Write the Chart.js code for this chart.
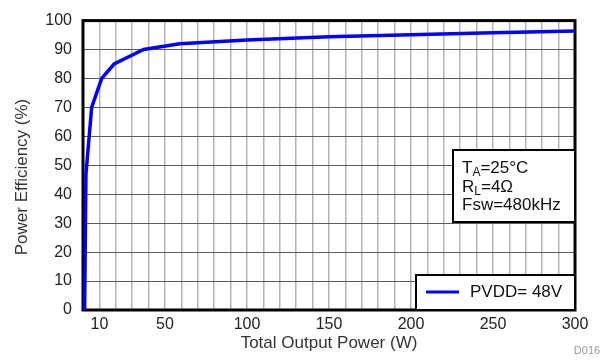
<!DOCTYPE html>
<html>
<head>
<meta charset="utf-8">
<script src="https://cdn.jsdelivr.net/npm/chart.js@4.4.1/dist/chart.umd.min.js"></script>
<style>
  html, body { margin: 0; padding: 0; background: #fff; }
  canvas { display: block; }
</style>
</head>
<body>
<canvas id="eff" width="611" height="360"></canvas>
<script>
// values
var powerW = [1, 1.8, 5.3, 11.4, 19, 37, 59, 100, 150, 200, 250, 300];
var efficiency = [0, 47, 70, 80, 85, 90, 92, 93.3, 94.4, 95.1, 95.8, 96.4];
var xLabels = [10, 50, 100, 150, 200, 250, 300];
var seriesName = 'PVDD= 48V';
var noteLines = [['T', 'A', '=25°C'], ['R', 'L', '=4Ω'], ['Fsw=480kHz', '', '']];

var FONT = 'Liberation Sans';

var points = powerW.map(function (w, i) { return { x: w, y: efficiency[i] }; });

// frame + note box + legend box
var extras = {
    id: 'extras',
    beforeDatasetsDraw: function (chart) {
        var a = chart.chartArea, ctx = chart.ctx;
        ctx.save();
        ctx.strokeStyle = '#000';
        ctx.lineWidth = 3;
        ctx.strokeRect(a.left, a.top, a.right - a.left, a.bottom - a.top);
        ctx.restore();
    },
    afterDatasetsDraw: function (chart) {
        var a = chart.chartArea, ctx = chart.ctx;
        ctx.save();
        ctx.lineWidth = 2;
        ctx.strokeStyle = '#000';

        // conditions box
        ctx.fillStyle = '#fff';
        ctx.fillRect(453, 150, a.right - 453, 72);
        ctx.strokeRect(453, 150, a.right - 453, 72);
        ctx.fillStyle = '#111';
        ctx.textBaseline = 'alphabetic';
        noteLines.forEach(function (ln, i) {
            var y = 173 + i * 18.5, x = 462;
            ctx.font = '17px "' + FONT + '"';
            ctx.fillText(ln[0], x, y);
            x += ctx.measureText(ln[0]).width;
            if (ln[1]) {
                ctx.font = '12px "' + FONT + '"';
                ctx.fillText(ln[1], x, y + 3);
                x += ctx.measureText(ln[1]).width;
            }
            ctx.font = '17px "' + FONT + '"';
            ctx.fillText(ln[2], x, y);
        });

        // legend box
        var ds = chart.data.datasets[0];
        ctx.fillStyle = '#fff';
        ctx.fillRect(416, 275, a.right - 416, a.bottom - 275);
        ctx.strokeRect(416, 275, a.right - 416, a.bottom - 275);
        ctx.strokeStyle = ds.borderColor;
        ctx.lineWidth = 3;
        ctx.beginPath();
        ctx.moveTo(426, 292);
        ctx.lineTo(459, 292);
        ctx.stroke();
        ctx.fillStyle = '#111';
        ctx.font = '17px "' + FONT + '"';
        ctx.textBaseline = 'middle';
        ctx.fillText(ds.label, 470, 292);

        // y title
        ctx.save();
        ctx.translate(22, 177);
        ctx.rotate(-Math.PI / 2);
        ctx.textAlign = 'center';
        ctx.fillStyle = '#333';
        ctx.font = '17px "' + FONT + '"';
        ctx.fillText('Power Efficiency (%)', 0, 0);
        ctx.restore();

        // figure id
        ctx.font = '11px "' + FONT + '"';
        ctx.fillStyle = '#999';
        ctx.textAlign = 'center';
        ctx.fillText('D016', 587, 351);
        ctx.restore();
    }
};

new Chart(document.getElementById('eff'), {
    type: 'line',
    data: {
        datasets: [{
            label: seriesName,
            data: points,
            borderColor: '#0000ff',
            backgroundColor: '#0000ff',
            borderWidth: 3.5,
            pointRadius: 0,
            tension: 0
        }]
    },
    options: {
        responsive: false,
        animation: false,
        layout: { padding: { top: 17, right: 36, left: 0, bottom: 0 } },
        plugins: { legend: { display: false }, tooltip: { enabled: false } },
        scales: {
            x: {
                type: 'linear',
                min: 0, max: 300,
                afterFit: function (s) { s.height = 50; },
                afterBuildTicks: function (s) {
                    var t = [];
                    for (var v = 0; v <= 300; v += 10) t.push({ value: v });
                    s.ticks = t;
                },
                grid: { color: '#b4b4b4', lineWidth: 1.5, drawTicks: false },
                border: { display: false },
                ticks: {
                    autoSkip: false, maxRotation: 0, padding: 5,
                    color: '#222',
                    font: { family: FONT, size: 16 },
                    callback: function (v) { return xLabels.indexOf(v) >= 0 ? String(v) : ''; }
                },
                title: {
                    display: true, text: 'Total Output Power (W)',
                    color: '#333', font: { family: FONT, size: 17 },
                    padding: { top: 0, bottom: 6 }
                }
            },
            y: {
                min: 0, max: 100,
                afterFit: function (s) { s.width = 83; },
                grid: { color: '#5a5a5a', lineWidth: 1, drawTicks: false },
                border: { display: false },
                ticks: {
                    stepSize: 10, padding: 11,
                    color: '#222',
                    font: { family: FONT, size: 16 }
                }
            }
        }
    },
    plugins: [extras]
});
</script>
</body>
</html>
